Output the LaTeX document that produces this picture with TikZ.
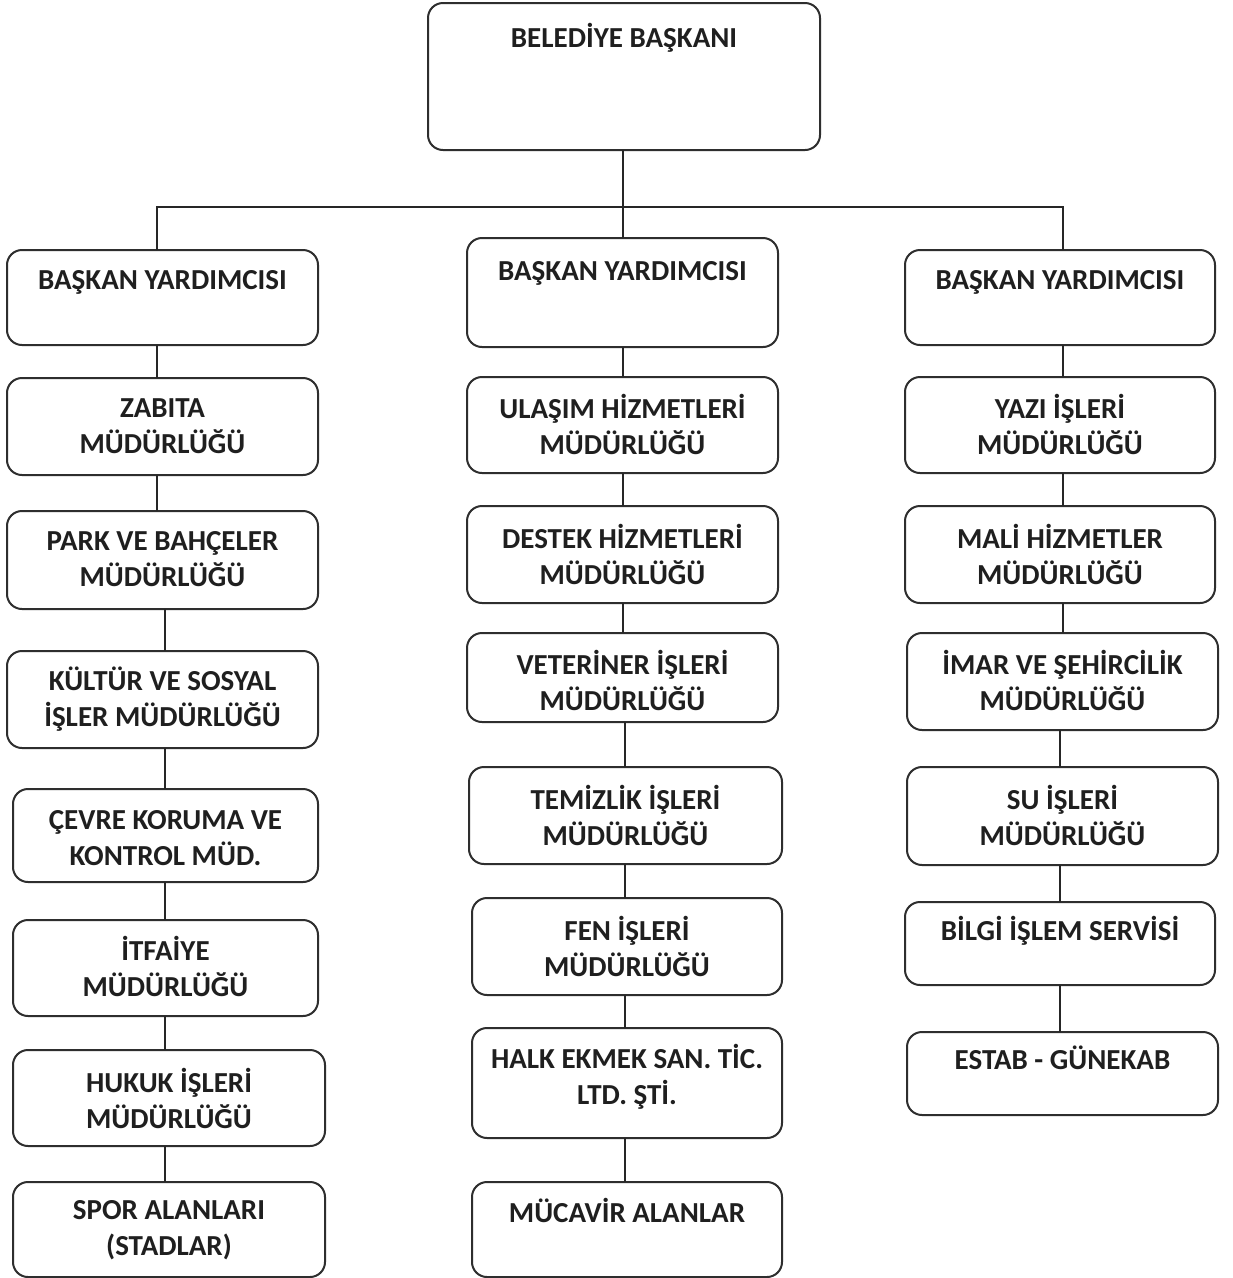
\documentclass[tikz,border=0pt]{standalone}
\usepackage{fontspec}
\setmainfont{Carlito}
\begin{document}
\begin{tikzpicture}[x=1pt,y=-1pt,
  box/.style={draw=black!82,line width=2pt,rounded corners=15pt,fill=white,inner sep=0pt,outer sep=0pt},
  lbl/.style={font=\bfseries\fontsize{29}{36}\selectfont,align=center,text=black!88,inner sep=0pt},
  conn/.style={draw=black!85,line width=2pt}]
\useasboundingbox (0,0) rectangle (1233,1278);
\fill[white] (0,0) rectangle (1233,1278);
\newcommand{\obox}[7]{%
  \pgfmathsetmacro{\ow}{#4-#2}%
  \pgfmathsetmacro{\oh}{#5-#3}%
  \pgfmathsetmacro{\ocx}{(#2+#4)/2}%
  \pgfmathsetmacro{\ocy}{(#3+#5)/2}%
  \node[box,minimum width=\ow pt,minimum height=\oh pt] (#1) at (\ocx,\ocy) {};
  \node[lbl] (#1-t) at (\ocx,#6) {#7};
}
\newcommand{\vconn}[3]{%
  \coordinate (tmpx) at (#3,0);
  \draw[conn] (#1.south -| tmpx) -- (#2.north -| tmpx);
}
% top
\obox{top}{428}{3}{820}{150}{38}{BELEDİYE BAŞKANI}
% vice presidents
\obox{vl}{7}{250}{318}{345}{282}{BAŞKAN YARDIMCISI}
\obox{vc}{467}{238}{778}{347}{273}{BAŞKAN YARDIMCISI}
\obox{vr}{905}{250}{1215}{345}{282}{BAŞKAN YARDIMCISI}
% left column
\obox{l1}{7}{378}{318}{475}{426}{ZABITA\\MÜDÜRLÜĞÜ}
\obox{l2}{7}{511}{318}{609}{559}{PARK VE BAHÇELER\\MÜDÜRLÜĞÜ}
\obox{l3}{7}{651}{318}{748}{699}{KÜLTÜR VE SOSYAL\\İŞLER MÜDÜRLÜĞÜ}
\obox{l4}{13}{789}{318}{882}{838}{ÇEVRE KORUMA VE\\KONTROL MÜD.}
\obox{l5}{13}{920}{318}{1016}{966}{İTFAİYE\\MÜDÜRLÜĞÜ}
\obox{l6}{13}{1050}{325}{1146}{1098}{HUKUK İŞLERİ\\MÜDÜRLÜĞÜ}
\obox{l7}{13}{1182}{325}{1277}{1230}{SPOR ALANLARI\\(STADLAR)}
% center column
\obox{c1}{467}{377}{778}{473}{424}{ULAŞIM HİZMETLERİ\\MÜDÜRLÜĞÜ}
\obox{c2}{467}{506}{778}{603}{554}{DESTEK HİZMETLERİ\\MÜDÜRLÜĞÜ}
\obox{c3}{467}{633}{778}{722}{680}{VETERİNER İŞLERİ\\MÜDÜRLÜĞÜ}
\obox{c4}{469}{767}{782}{864}{815}{TEMİZLİK İŞLERİ\\MÜDÜRLÜĞÜ}
\obox{c5}{472}{898}{782}{995}{946}{FEN İŞLERİ\\MÜDÜRLÜĞÜ}
\obox{c6}{472}{1028}{782}{1138}{1077}{HALK EKMEK SAN. TİC.\\LTD. ŞTİ.}
\obox{c7}{472}{1182}{782}{1277}{1210}{MÜCAVİR ALANLAR}
% right column
\obox{r1}{905}{377}{1215}{473}{424}{YAZI İŞLERİ\\MÜDÜRLÜĞÜ}
\obox{r2}{905}{506}{1215}{603}{554}{MALİ HİZMETLER\\MÜDÜRLÜĞÜ}
\obox{r3}{907}{633}{1218}{730}{680}{İMAR VE ŞEHİRCİLİK\\MÜDÜRLÜĞÜ}
\obox{r4}{907}{767}{1218}{865}{815}{SU İŞLERİ\\MÜDÜRLÜĞÜ}
\obox{r5}{905}{902}{1215}{985}{931}{BİLGİ İŞLEM SERVİSİ}
\obox{r6}{907}{1032}{1218}{1115}{1058}{ESTAB - GÜNEKAB}
% bus
\coordinate (busL) at (157,207);
\coordinate (busC) at (623,207);
\coordinate (busR) at (1063,207);
\draw[conn] (top.south -| busC) -- (busC) -- (vc.north -| busC);
\draw[conn] (vl.north -| busL) -- (busL) -- (busR) -- (vr.north -| busR);
% connectors
\vconn{vl}{l1}{157}
\vconn{l1}{l2}{157}
\vconn{l2}{l3}{165}
\vconn{l3}{l4}{165}
\vconn{l4}{l5}{165}
\vconn{l5}{l6}{165}
\vconn{l6}{l7}{165}
\vconn{vc}{c1}{623}
\vconn{c1}{c2}{623}
\vconn{c2}{c3}{623}
\vconn{c3}{c4}{625}
\vconn{c4}{c5}{625}
\vconn{c5}{c6}{625}
\vconn{c6}{c7}{625}
\vconn{vr}{r1}{1063}
\vconn{r1}{r2}{1063}
\vconn{r2}{r3}{1063}
\vconn{r3}{r4}{1060}
\vconn{r4}{r5}{1060}
\vconn{r5}{r6}{1060}
\end{tikzpicture}
\end{document}
